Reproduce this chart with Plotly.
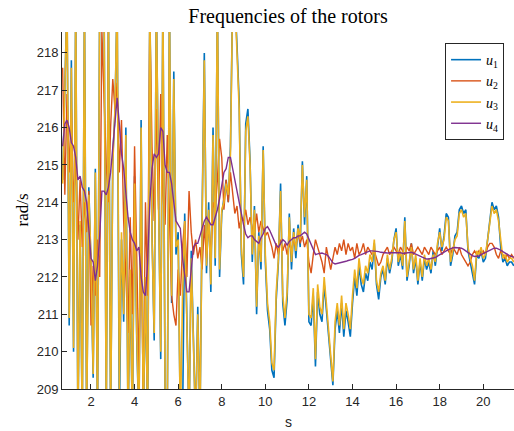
import numpy as np
import plotly.graph_objects as go

# time axis (s)
t = np.round(np.arange(0.7, 21.41, 0.1), 2)

u1 = [214.6, 216.9, 219.5,
      210.7, 217.8, 210.0, 219.5, 208.0, 213.4, 208.0, 219.5, 208.0, 214.4,
      212.3, 209.3, 214.9, 208.0, 219.5, 219.5, 219.5, 208.0, 219.5, 208.0,
      215.2, 216.4, 219.5, 208.0, 213.0, 210.8, 216.0, 208.0, 212.0, 208.0,
      214.7, 210.3, 208.0, 216.2, 208.0, 211.8, 208.0, 219.5, 213.2, 210.3,
      219.5, 214.2, 209.8, 219.5, 208.8, 208.0, 219.5, 211.3, 217.5, 212.6,
      213.2, 208.0, 208.0, 213.7, 210.3, 208.0, 212.7, 209.8, 208.0, 211.2,
      208.0, 213.7, 218.0, 212.1, 214.0, 211.6, 216.0, 212.3, 219.5, 212.0,
      213.7, 214.1, 214.6, 214.0, 215.5, 219.5, 219.5, 218.2, 216.7, 212.6,
      211.8, 216.1, 216.5, 215.1, 212.4, 213.9, 211.0, 213.2, 212.2, 215.5,
      212.4, 211.1, 210.6, 209.5, 209.3, 211.4, 212.4, 214.5, 211.3, 210.7,
      211.4, 213.7, 212.2, 213.3, 212.5, 213.4, 212.8, 215.1, 213.4, 214.7,
      210.8, 210.7, 211.5, 209.6, 211.6, 211.0, 210.8, 211.8, 211.1, 210.3,
      209.8, 209.1, 210.6, 211.1, 210.5, 211.3, 210.4, 211.1, 210.8, 210.4,
      211.3, 212.0, 211.5, 212.3, 211.8, 211.6, 212.1, 211.9, 212.4, 212.2,
      212.9, 211.8, 211.4, 212.0, 212.2, 211.8, 212.5, 212.1, 212.4, 213.0,
      213.3, 212.3, 212.6, 212.2, 213.6, 211.9, 212.3, 212.9, 212.1, 212.5,
      211.8, 212.4, 211.9, 212.5, 212.2, 212.4, 212.1, 212.7, 212.3, 212.9,
      213.3, 212.7, 213.1, 213.7, 213.6, 212.3, 212.6, 213.1, 213.2, 213.8,
      213.9, 213.7, 213.8, 212.7, 212.4, 212.2, 211.8, 212.6, 212.5, 212.7,
      212.4, 212.5, 213.1, 213.5, 214.0, 213.8, 213.9, 213.6, 212.8, 212.4,
      212.5, 212.3, 212.4, 212.4, 212.3]

u2 = [217.6, 214.2, 216.9,
      214.8, 216.5, 214.0, 215.2, 213.0, 214.6, 212.8, 214.0, 213.2, 214.3,
      210.7, 212.3, 211.5, 213.0, 212.0, 218.6, 217.0, 215.0, 214.0, 216.0,
      217.3, 216.5, 217.2, 214.8, 216.2, 213.5, 212.0, 210.5, 213.6, 211.0,
      215.5, 212.5, 209.5, 213.5, 208.5, 214.0, 211.5, 219.0, 215.5, 213.5,
      216.5, 213.8, 216.9, 214.2, 213.4, 215.8, 213.5, 211.5, 211.0, 210.7,
      212.2, 211.5, 212.8, 213.5, 212.0, 214.3, 213.2, 212.6, 213.0, 212.5,
      212.8, 212.2, 213.4, 212.5, 213.6, 212.4, 214.0, 213.8, 214.6, 215.7,
      215.2, 213.8, 214.6, 214.0, 214.8, 214.2, 213.7, 213.9, 213.3, 213.6,
      213.5, 213.8, 213.4, 213.6, 213.3, 213.2, 213.7, 213.2, 213.5, 213.3,
      213.1, 213.2, 213.0, 212.8, 212.5, 212.9, 212.6, 213.0, 212.7, 212.9,
      212.6, 212.9, 212.7, 213.0, 212.8, 213.2, 212.9, 213.1, 212.8, 213.0,
      212.4, 212.1, 212.6, 213.0, 212.8, 212.6, 212.4, 212.1, 212.8, 212.5,
      212.2, 212.5, 212.8, 212.6, 212.9, 212.7, 213.0, 212.6, 212.9, 212.7,
      212.8, 212.5, 212.9, 212.6, 212.7, 212.9, 212.6, 212.8, 212.7, 212.6,
      212.7, 212.5, 212.3, 212.4, 212.6, 212.7, 212.8, 212.6, 212.7, 212.8,
      212.7, 212.6, 212.8, 212.7, 212.6, 212.8, 212.7, 212.9, 212.6, 212.7,
      212.8, 212.7, 212.6, 212.8, 212.7, 212.6, 212.8, 212.7, 212.6, 212.7,
      212.8, 212.6, 212.7, 212.8, 212.7, 212.6, 212.8, 212.7, 212.6, 212.8,
      212.6, 212.5, 212.4, 212.3, 212.4, 212.6, 212.7, 212.6, 212.7, 212.6,
      212.7, 212.6, 212.8, 212.9, 212.9, 212.8, 212.6, 212.5, 212.7, 212.6,
      212.5, 212.6, 212.5, 212.6, 212.5]

u3 = [214.5, 216.8, 219.5,
      210.9, 217.6, 210.1, 219.5, 208.0, 213.5, 208.0, 219.5, 208.0, 214.2,
      212.5, 209.4, 214.8, 208.0, 219.5, 219.5, 219.5, 208.0, 219.5, 208.0,
      215.0, 216.5, 219.5, 209.0, 213.2, 211.0, 215.8, 208.0, 212.2, 208.0,
      214.5, 210.5, 208.0, 216.0, 208.0, 212.0, 208.0, 219.5, 213.0, 210.5,
      219.5, 214.0, 210.0, 219.5, 209.0, 208.0, 219.5, 211.5, 217.3, 212.8,
      213.0, 208.0, 211.5, 213.5, 210.5, 208.0, 212.5, 210.0, 208.0, 211.0,
      208.0, 213.5, 217.8, 212.3, 213.8, 211.8, 215.8, 212.5, 219.5, 212.2,
      213.8, 214.0, 214.5, 214.2, 215.3, 219.5, 219.5, 218.0, 216.5, 212.8,
      212.0, 215.9, 216.3, 215.0, 212.6, 213.8, 211.2, 213.1, 212.4, 215.4,
      212.6, 211.3, 210.8, 209.7, 209.5, 211.6, 212.5, 214.3, 211.5, 210.9,
      211.6, 213.6, 212.4, 213.2, 212.7, 213.3, 213.0, 215.0, 213.6, 214.6,
      211.0, 210.9, 211.7, 209.8, 211.8, 211.2, 211.0, 212.0, 211.3, 210.5,
      210.0, 209.2, 210.8, 211.3, 210.7, 211.5, 210.6, 211.3, 211.0, 210.6,
      211.5, 212.2, 211.7, 212.5, 212.0, 211.8, 212.3, 212.1, 212.6, 212.4,
      213.0, 211.9, 211.6, 212.1, 212.3, 211.9, 212.6, 212.2, 212.5, 213.0,
      213.2, 212.4, 212.7, 212.3, 213.5, 212.0, 212.4, 212.8, 212.2, 212.6,
      211.9, 212.5, 212.0, 212.6, 212.3, 212.5, 212.2, 212.6, 212.4, 212.9,
      213.2, 212.8, 213.0, 213.6, 213.5, 212.4, 212.7, 213.0, 213.1, 213.7,
      213.8, 213.6, 213.7, 212.8, 212.5, 212.3, 211.9, 212.7, 212.6, 212.8,
      212.5, 212.6, 213.0, 213.4, 213.9, 213.7, 213.8, 213.5, 212.9, 212.5,
      212.6, 212.4, 212.5, 212.5, 212.4]

u4 = [215.5, 216.1, 216.2,
      216.0, 215.6, 215.5, 215.2, 214.6, 214.7, 214.4, 214.3, 214.0, 213.3,
      212.5, 212.4, 211.9, 212.3, 213.1, 214.3, 214.3, 214.2, 214.4, 214.8,
      215.4, 216.0, 216.8, 216.1, 215.3, 214.9, 214.2, 213.6, 213.2, 213.0,
      212.9, 212.7, 212.8, 212.0, 211.6, 211.5, 212.4, 214.0, 214.9, 215.3,
      215.2, 215.3, 216.0, 215.9, 215.0, 214.8, 214.8, 214.5, 214.0, 213.5,
      213.4, 213.3, 212.5, 212.0, 211.6, 211.6, 212.2, 212.8, 212.9, 212.9,
      213.1, 213.3, 213.5, 213.6, 213.5, 213.4, 213.4, 213.6, 213.8, 214.1,
      214.5, 214.8, 214.9, 215.2, 215.2, 214.9, 214.5, 214.2, 213.9, 213.6,
      213.4, 213.15, 213.05, 213.1, 213.1, 213.0, 212.95, 212.9, 213.05, 213.15,
      213.3, 213.35, 213.25, 213.1, 212.95, 212.85, 212.8, 212.9, 213.0, 212.95,
      212.85, 212.95, 213.0, 213.05, 213.05, 213.1, 213.1, 213.15, 213.2, 213.15,
      213.0, 212.85, 212.7, 212.6, 212.62, 212.63, 212.64, 212.62, 212.6, 212.55,
      212.45, 212.38, 212.35, 212.36, 212.38, 212.38, 212.4, 212.42, 212.44, 212.45,
      212.47, 212.5, 212.55, 212.58, 212.6, 212.63, 212.66, 212.68, 212.7, 212.7,
      212.7, 212.7, 212.68, 212.66, 212.65, 212.64, 212.64, 212.65, 212.65, 212.66,
      212.67, 212.67, 212.65, 212.63, 212.64, 212.66, 212.67, 212.66, 212.64, 212.62,
      212.6, 212.56, 212.53, 212.5, 212.48, 212.48, 212.49, 212.5, 212.52, 212.56,
      212.6, 212.64, 212.68, 212.7, 212.73, 212.76, 212.78, 212.79, 212.79, 212.78,
      212.77, 212.74, 212.7, 212.65, 212.6, 212.57, 212.55, 212.55, 212.56, 212.6,
      212.63, 212.66, 212.7, 212.73, 212.76, 212.77, 212.77, 212.75, 212.72, 212.68,
      212.64, 212.6, 212.57, 212.55, 212.53]

names = ["<i>u</i><sub>1</sub>", "<i>u</i><sub>2</sub>",
         "<i>u</i><sub>3</sub>", "<i>u</i><sub>4</sub>"]
colors = ["#0072BD", "#D95319", "#EDB120", "#7E2F8E"]
widths = [1.6, 1.4, 1.6, 1.4]
x_ticks = [2, 4, 6, 8, 10, 12, 14, 16, 18, 20]
y_ticks = [209, 210, 211, 212, 213, 214, 215, 216, 217, 218]

fig = go.Figure()
for series, name, col, w in zip([u1, u2, u3, u4], names, colors, widths):
    fig.add_trace(go.Scatter(x=t, y=series, mode="lines", name=name,
                             line=dict(color=col, width=w)))

axis_common = dict(showgrid=False, zeroline=False, showline=True,
                   linecolor="#262626", linewidth=1, ticks="inside",
                   ticklen=5, tickcolor="#262626", mirror=False,
                   tickfont=dict(family="Liberation Sans", size=13, color="#262626"))

fig.update_layout(
    width=514, height=431,
    margin=dict(l=62, r=0, t=32, b=42),
    paper_bgcolor="white", plot_bgcolor="white",
    title=dict(text="Frequencies of the rotors", x=0.5, xref="paper",
               xanchor="center", y=1 - 16 / 431, yref="container", yanchor="middle",
               font=dict(family="Liberation Serif", size=20, color="black")),
    xaxis=dict(range=[0.67, 21.41], tickvals=x_ticks, **axis_common),
    yaxis=dict(range=[209, 218.56], tickvals=y_ticks, **axis_common),
    legend=dict(x=0.978, xanchor="right", y=0.969, yanchor="top",
                bgcolor="white", bordercolor="#262626", borderwidth=1,
                font=dict(family="Liberation Serif", size=14, color="black")),
    showlegend=True,
    annotations=[
        dict(text="rad/s", xref="paper", yref="paper", x=-40 / 452, y=0.5,
             xanchor="center", yanchor="middle", textangle=-90, showarrow=False,
             font=dict(family="Liberation Serif", size=17, color="black")),
        dict(text="s", xref="paper", yref="paper", x=0.5, y=-33 / 357,
             xanchor="center", yanchor="middle", showarrow=False,
             font=dict(family="Liberation Sans", size=14, color="#262626")),
    ],
)

fig.write_html("out.html")
